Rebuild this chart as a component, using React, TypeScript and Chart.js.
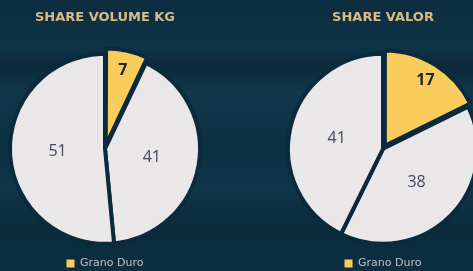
import React, { useEffect, useRef } from "react";
import { Chart, registerables } from "chart.js";

Chart.register(...registerables);

const categories = ["Grano Duro", "Otros A", "Otros B"];
const volumeValues = [7, 41, 51];
const valorValues = [17, 38, 41];
const volumeTitle = "SHARE VOLUME KG";
const valorTitle = "SHARE VALOR";

const YELLOW = "#f8cd5c";
const GREY = "#e9e7e8";
const BORDER = "#0b2b3c";

const sliceLabels = {
  id: "sliceLabels",
  afterDatasetsDraw(chart: any) {
    const ctx = chart.ctx;
    const meta = chart.getDatasetMeta(0);
    const ds = chart.data.datasets[0];
    meta.data.forEach((arc: any, i: number) => {
      const p = arc.getProps(["x", "y", "startAngle", "endAngle", "outerRadius"], true);
      const mid = (p.startAngle + p.endAngle) / 2;
      const off = Array.isArray(ds.offset) ? ds.offset[i] || 0 : 0;
      const hl = i === 0;
      const r = (hl ? 0.7 : 0.5) * p.outerRadius + off;
      ctx.save();
      ctx.textAlign = "center";
      ctx.textBaseline = "middle";
      ctx.fillStyle = hl ? "#26262a" : "#47465a";
      ctx.font = (hl ? "bold " : "") + "16px 'Open Sans'";
      ctx.fillText(String(ds.data[i]), p.x + Math.cos(mid) * r, p.y + Math.sin(mid) * r);
      ctx.restore();
    });
  },
};

function PieChart({ values, title, left, width }: { values: number[]; title: string; left: number; width: number }) {
  const ref = useRef<HTMLCanvasElement>(null);
  useEffect(() => {
    if (!ref.current) return;
    const chart = new Chart(ref.current, {
      type: "pie",
      data: {
        labels: categories,
        datasets: [
          {
            data: values,
            backgroundColor: [YELLOW, GREY, GREY],
            borderColor: BORDER,
            borderWidth: 4,
            offset: [14, 0, 0],
            hoverOffset: 0,
          } as any,
        ],
      },
      options: {
        animation: false,
        responsive: false,
        devicePixelRatio: 1,
        radius: 95,
        layout: { padding: 0 },
        plugins: {
          title: {
            display: true,
            text: title,
            color: "#d9bb85",
            font: { size: 13, weight: "bold", family: "'DejaVu Sans'" },
            padding: { top: 10, bottom: 18 },
          },
          legend: {
            display: true,
            position: "bottom",
            labels: {
              generateLabels: (c: any) => {
                const items = Chart.overrides.pie.plugins.legend.labels.generateLabels(c);
                return items
                  .filter((it: any) => it.index === 0)
                  .map((it: any) => ({ ...it, lineWidth: 0, strokeStyle: it.fillStyle }));
              },
              boxWidth: 8,
              boxHeight: 8,
              padding: 4,
              color: "#bcc0c6",
              font: { size: 11, family: "'DejaVu Sans'" },
            },
          },
          tooltip: { enabled: false },
        },
      } as any,
      plugins: [sliceLabels],
    });
    return () => chart.destroy();
  }, []);
  return (
    <canvas
      ref={ref}
      width={width}
      height={279}
      style={{ position: "absolute", left, top: 0, width, height: 279 }}
    />
  );
}

export default function App() {
  return (
    <div
      style={{
        position: "fixed",
        left: 0,
        top: 0,
        width: 473,
        height: 271,
        overflow: "hidden",
        background:
          "linear-gradient(180deg, #0c2d3f 0%, #0f3447 18%, #0b2a3b 24%, #103649 34%, #0d3043 55%, #0f3548 70%, #0b2b3c 85%, #0d2f41 100%)",
      }}
    >
      <PieChart values={volumeValues} title={volumeTitle} left={0} width={210} />
      <PieChart values={valorValues} title={valorTitle} left={236} width={294} />
    </div>
  );
}
